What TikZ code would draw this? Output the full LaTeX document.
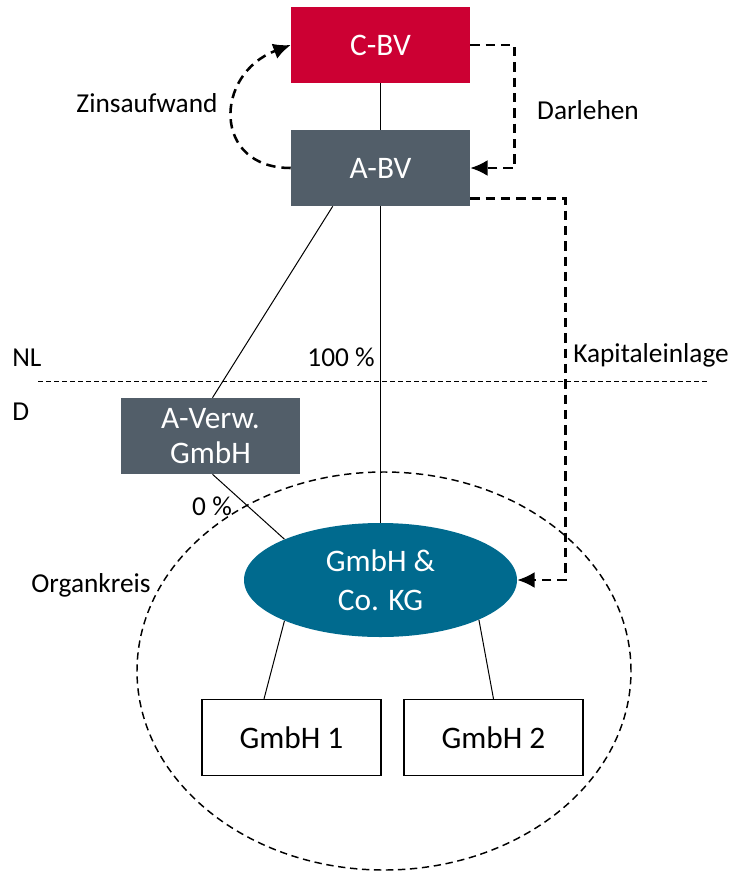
\documentclass[tikz,border=0pt]{standalone}
\usepackage{fontspec}
\setmainfont{Carlito}
\usetikzlibrary{arrows.meta,calc,shapes.geometric}
\definecolor{cbvred}{HTML}{CC0033}
\definecolor{slate}{HTML}{525E69}
\definecolor{petrol}{HTML}{006A8E}

\begin{document}
\begin{tikzpicture}[x=0.75pt,y=-0.75pt,
  box/.style={rectangle, minimum width=134.25pt, minimum height=57pt, inner sep=0pt,
    align=center, font=\fontsize{23.5}{26}\selectfont},
  darkbox/.style={box, fill=#1, text=white},
  whitebox/.style={box, draw=black, line width=1pt, fill=white},
  lbl/.style={inner sep=0pt, font=\fontsize{20.5}{24}\selectfont},
  link/.style={draw=black, line width=0.75pt},
  flow/.style={draw=black, line width=1.9pt, dash pattern=on 7pt off 4.5pt,
    -{Latex[length=13pt,width=12pt]}},
  kreis/.style={draw=black, line width=1.1pt, dash pattern=on 5.5pt off 3.5pt},
  border/.style={draw=black, line width=0.75pt, dash pattern=on 3.5pt off 2.5pt}]

\useasboundingbox (0,0) rectangle (735,871);

% Organkreis boundary
\draw[kreis] (384,671) ellipse [x radius=185.25pt, y radius=149.25pt];

% NL / D border
\coordinate (bl) at (38,381);
\coordinate (br) at (708,381);
\draw[border] (bl) -- (br);

% Entities
\node[darkbox=cbvred] (cbv) at (380.5,45) {C-BV};
\node[darkbox=slate] (abv) at (380.5,168) {A-BV};
\node[darkbox=slate] (averw) at (210.5,436) {A-Verw.\\GmbH};
\node[ellipse, fill=petrol, text=white, minimum width=204.75pt, minimum height=85.5pt,
  inner sep=0pt, align=center, font=\fontsize{23.5}{29}\selectfont] (kg) at (380.5,580) {GmbH \&\\Co. KG};
\node[whitebox] (g1) at (291.5,737.5) {GmbH 1};
\node[whitebox] (g2) at (493.5,737.5) {GmbH 2};

% Shareholdings
\draw[link] (cbv) -- (abv);
\draw[link] (abv.south) -- (kg.north);
\draw[link] ([xshift=31.5pt]abv.south west) -- ([xshift=1.5pt]averw.north);
\draw[link] ([xshift=1.5pt]averw.south) -- (kg.157);
\draw[link] (kg.203) -- ([xshift=-20.6pt]g1.north);
\draw[link] (kg.338) -- (g2.north);

% Flows
\draw[flow] (abv.west) .. controls (212,168) and (214,74) .. (cbv.west);
\draw[flow] (cbv.east) -- ++(44,0) |- (abv.east);
\draw[flow] ([yshift=6pt]abv.south east) -- ++(95,0) |- (kg.east);

% Labels
\node[lbl] (zins) at (147,103) {Zinsaufwand};
\node[lbl] (darl) at (588,110) {Darlehen};
\node[lbl, anchor=west] (kap) at (573,355) {Kapitaleinlage};
\node[lbl, anchor=west] (nl) at (12,358) {NL};
\node[lbl, anchor=west] (d) at (12,412) {D};
\node[lbl, anchor=east] (p100) at (375,357) {100 \%};
\node[lbl] (p0) at (212,506) {0 \%};
\node[lbl] (ok) at (91,585) {Organkreis};
\end{tikzpicture}
\end{document}
